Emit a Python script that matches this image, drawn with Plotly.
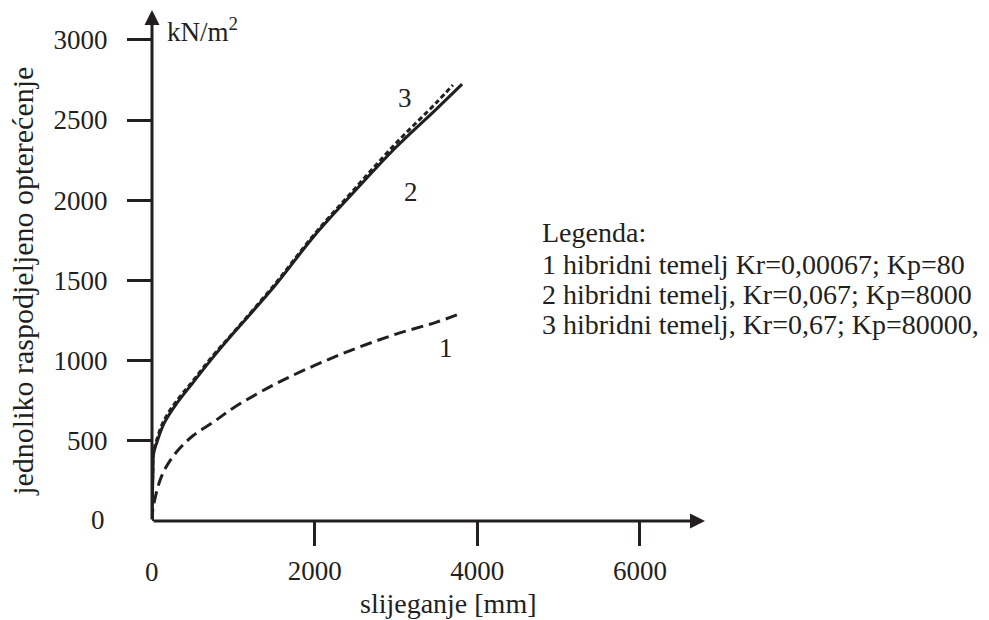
import plotly.graph_objects as go

# Settlement [mm] vs. uniformly distributed load [kN/m2]
x_curve1 = [0, 10, 37, 80, 135, 220, 344, 500, 750, 1000, 1500, 2000, 2500, 3000, 3500, 3813]
y_curve1 = [0, 70, 140, 225, 299, 375, 455, 530, 615, 705, 850, 970, 1075, 1165, 1240, 1297]

x_curve2 = [0, 5, 12, 20, 60, 150, 300, 500, 750, 1000, 1500, 2000, 2500, 3000, 3500, 3813]
y_curve2 = [0, 150, 300, 420, 490, 610, 730, 860, 1020, 1170, 1460, 1780, 2060, 2330, 2570, 2724]

x_curve3 = [0, 4, 10, 18, 55, 140, 290, 490, 740, 1000, 1500, 2000, 2500, 3000, 3500, 3700]
y_curve3 = [0, 160, 310, 430, 500, 620, 740, 865, 1025, 1175, 1470, 1790, 2075, 2355, 2610, 2718]

x_ticks = [2000, 4000, 6000]
y_ticks = [500, 1000, 1500, 2000, 2500, 3000]

curve_labels = ["1", "2", "3"]
curve_label_x = [3616, 3182, 3112]
curve_label_y = [1079, 2053, 2635]

legend_lines = [
    "Legenda:",
    "1 hibridni temelj Kr=0,00067; Kp=80",
    "2 hibridni temelj, Kr=0,067; Kp=8000",
    "3 hibridni temelj, Kr=0,67; Kp=80000,",
]

INK = "#231f20"
FONT = "Liberation Serif, Times New Roman, serif"
X_MAX = 6800
Y_MAX = 3186


def create_settlement_chart():
    fig = go.Figure()

    # Curves: 1 long dashes, 2 solid, 3 short dashes
    fig.add_trace(go.Scatter(
        x=x_curve1, y=y_curve1, mode='lines',
        line=dict(color=INK, width=3, dash='12px,6px', shape='spline'),
        showlegend=False
    ))
    fig.add_trace(go.Scatter(
        x=x_curve2, y=y_curve2, mode='lines',
        line=dict(color=INK, width=3, shape='spline'),
        showlegend=False
    ))
    fig.add_trace(go.Scatter(
        x=x_curve3, y=y_curve3, mode='lines',
        line=dict(color=INK, width=3, dash='5px,3px', shape='spline'),
        showlegend=False
    ))

    annotations = []

    # Axis lines with arrow heads
    annotations.append(dict(
        x=X_MAX, y=0, ax=0, ay=0, xref='x', yref='y', axref='x', ayref='y',
        showarrow=True, arrowhead=2, arrowsize=1, arrowwidth=3, arrowcolor=INK,
        text=''
    ))
    annotations.append(dict(
        x=0, y=Y_MAX, ax=0, ay=0, xref='x', yref='y', axref='x', ayref='y',
        showarrow=True, arrowhead=2, arrowsize=1, arrowwidth=3, arrowcolor=INK,
        text=''
    ))

    # Zero labels (no tick marks at the origin)
    annotations.append(dict(
        x=0, y=0, xref='x', yref='y', text="0", showarrow=False,
        xanchor='center', yanchor='middle', yshift=-51,
        font=dict(size=27, family=FONT, color=INK)
    ))
    annotations.append(dict(
        x=0, y=0, xref='x', yref='y', text="0", showarrow=False,
        xanchor='right', yanchor='middle', xshift=-45, yshift=1,
        font=dict(size=27, family=FONT, color=INK)
    ))

    # Unit label at the top of the y axis
    annotations.append(dict(
        x=0, y=3061, xref='x', yref='y', text="kN/m<sup>2</sup>", showarrow=False,
        xanchor='left', yanchor='middle', xshift=13,
        font=dict(size=27, family=FONT, color=INK)
    ))

    # Axis titles
    annotations.append(dict(
        x=0.537, y=-0.162, xref='paper', yref='paper', text="slijeganje [mm]",
        xanchor='center', yanchor='middle', showarrow=False,
        font=dict(size=28, family=FONT, color=INK)
    ))
    annotations.append(dict(
        x=-0.2333, y=0.470, xref='paper', yref='paper',
        text="jednoliko raspodjeljeno opterećenje", textangle=-90,
        xanchor='center', yanchor='middle', showarrow=False,
        font=dict(size=30, family=FONT, color=INK)
    ))

    # Curve numbers
    for lab, lx, ly in zip(curve_labels, curve_label_x, curve_label_y):
        annotations.append(dict(
            x=lx, y=ly, xref='x', yref='y', text=lab, showarrow=False,
            xanchor='center', yanchor='middle',
            font=dict(size=27, family=FONT, color=INK)
        ))

    # Legend block
    legend_y = [0.5642, 0.5023, 0.4436, 0.3849]
    for line, ly in zip(legend_lines, legend_y):
        annotations.append(dict(
            x=0.7016, y=ly, xref='paper', yref='paper', text=line,
            xanchor='left', yanchor='middle', showarrow=False,
            font=dict(size=28, family=FONT, color=INK)
        ))

    # the page body adds an 8px offset, so the figure is 8px smaller each way
    fig.update_layout(
        width=981, height=612,
        margin=dict(l=144, r=284, t=2, b=99),
        paper_bgcolor='white', plot_bgcolor='white',
        font=dict(family=FONT, size=27, color=INK),
        xaxis=dict(
            range=[0, X_MAX], tickvals=x_ticks, ticks='outside', ticklen=24,
            tickwidth=3, tickcolor=INK, showgrid=False, zeroline=False,
            showline=False, ticklabelstandoff=2,
            tickfont=dict(size=27, family=FONT, color=INK)
        ),
        yaxis=dict(
            range=[0, Y_MAX], tickvals=y_ticks, ticks='outside', ticklen=24,
            tickwidth=3, tickcolor=INK, showgrid=False, zeroline=False,
            showline=False, ticklabelstandoff=14,
            tickfont=dict(size=27, family=FONT, color=INK)
        ),
        annotations=annotations,
        showlegend=False
    )
    return fig


fig = create_settlement_chart()
fig.write_html("out.html")
